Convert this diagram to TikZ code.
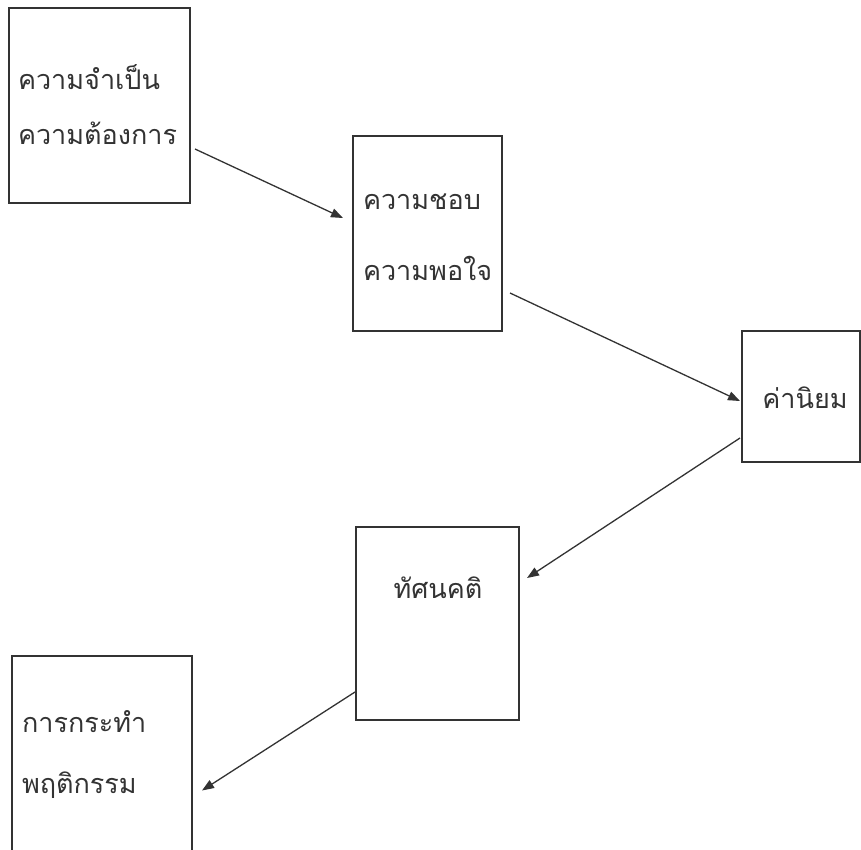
\documentclass[tikz,border=0pt]{standalone}
\usepackage{fontspec}
\newfontfamily\thaifont[Script=Thai]{Loma}
\usetikzlibrary{arrows.meta,calc}
\tikzset{
	box/.style={draw=black!80, line width=1.4pt, inner sep=0, outer sep=0},
	lbl/.style={inner sep=0, outer sep=0, font=\thaifont\fontsize{27}{32}\selectfont, text=black!80},
}
\begin{document}
\begin{tikzpicture}[x=1pt,y=-1pt,->,>={Triangle[length=12pt,width=9pt]},line width=1.3pt,draw=black!80]
	\useasboundingbox[fill=white] (0,0) rectangle (861,849);
	\node[box, minimum width=181pt, minimum height=195pt] (need) at (99.5, 105.5) {};
	\node[lbl, anchor=west] (need_1) at (18, 77) {ความจำเป็น};
	\node[lbl, anchor=west] (need_2) at (18, 133) {ความต้องการ};
	\node[box, minimum width=149pt, minimum height=195pt] (like) at (427.5, 233.5) {};
	\node[lbl, anchor=west] (like_1) at (363, 202) {ความชอบ};
	\node[lbl, anchor=west] (like_2) at (363, 268) {ความพอใจ};
	\node[box, minimum width=118pt, minimum height=131pt] (value) at (801, 396.5) {};
	\node[lbl] (value_1) at (805, 398) {ค่านิยม};
	\node[box, minimum width=163pt, minimum height=193pt] (att) at (437.5, 623.5) {};
	\node[lbl] (att_1) at (438, 588) {ทัศนคติ};
	\node[box, minimum width=180pt, minimum height=198pt] (act) at (102, 755) {};
	\node[lbl, anchor=west] (act_1) at (22, 722) {การกระทำ};
	\node[lbl, anchor=west] (act_2) at (22, 785) {พฤติกรรม};
	%\path (need) edge (like);
	\draw ($(need.east)+(5,43.5)$) -- ($(like.west)+(-10,-15.5)$);
	\draw ($(like.east)+(8,59.5)$) -- ($(value.west)+(-2,4.5)$);
	\draw ($(value.west)+(-2,41.5)$) -- ($(att.east)+(8,-45.5)$);
	\draw ($(att.west)+(-1,68.5)$) -- ($(act.east)+(10,35.5)$);
\end{tikzpicture}
\end{document}
